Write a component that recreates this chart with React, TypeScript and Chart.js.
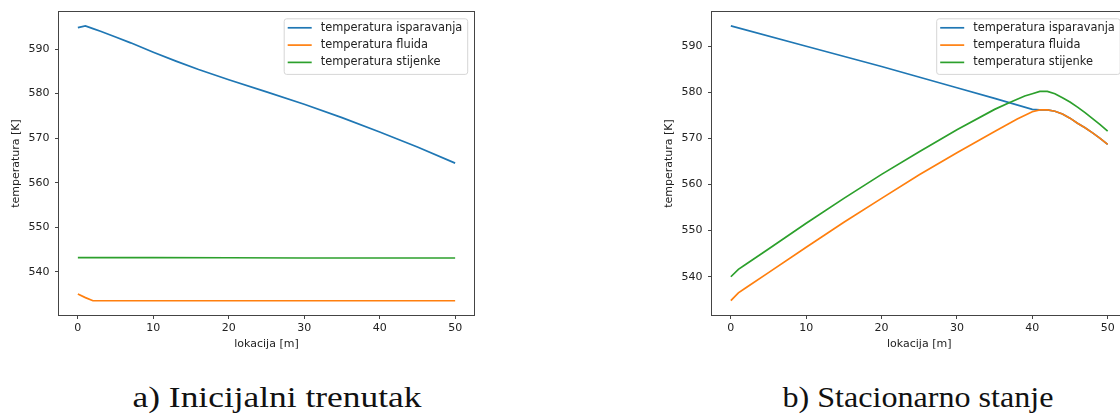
import React, { useEffect, useRef } from 'react';
import { Chart, registerables } from 'chart.js';

Chart.register(...registerables);

// ---------- data ----------
const xTicks = [0, 10, 20, 30, 40, 50];
const yTicks = [540, 550, 560, 570, 580, 590];
const seriesLabels = ['temperatura isparavanja', 'temperatura fluida', 'temperatura stijenke'];
const seriesColors = ['#1f77b4', '#ff7f0e', '#2ca02c'];
const captionA = 'a) Inicijalni trenutak';
const captionB = 'b) Stacionarno stanje';
const xTitle = 'lokacija [m]';
const yTitle = 'temperatura [K]';

// (a) initial moment
const locIsparA = [0, 1, 2, 3, 5, 7, 10, 13, 16, 20, 25, 30, 35, 40, 45, 50];
const tIsparA = [594.8, 595.2, 594.6, 594.0, 592.7, 591.4, 589.3, 587.3, 585.4, 583.1, 580.4, 577.6, 574.6, 571.4, 568.0, 564.4];
const locFluidA = [0, 1, 2, 10, 20, 30, 40, 50];
const tFluidA = [535.0, 534.2, 533.5, 533.5, 533.5, 533.5, 533.5, 533.5];
const locStijA = [0, 10, 20, 30, 40, 50];
const tStijA = [543.2, 543.2, 543.15, 543.1, 543.1, 543.1];

// (b) steady state
const locIsparB = [0, 10, 20, 30, 35, 40, 41, 42, 43, 44, 45, 46, 47, 48, 49, 50];
const tIsparB = [594.4, 590.0, 585.6, 581.0, 578.7, 576.3, 576.2, 576.2, 575.9, 575.3, 574.4, 573.3, 572.3, 571.2, 570.0, 568.7];
const locFluidB = [0, 1, 2, 5, 10, 15, 20, 25, 30, 35, 38, 40, 41, 42, 43, 44, 45, 46, 47, 48, 49, 50];
const tFluidB = [534.8, 536.5, 537.6, 540.9, 546.4, 551.8, 557.0, 562.1, 566.9, 571.5, 574.2, 575.8, 576.2, 576.2, 575.9, 575.3, 574.4, 573.3, 572.3, 571.2, 570.0, 568.7];
const locStijB = [0, 1, 2, 5, 10, 15, 20, 25, 30, 35, 37, 38, 39, 40, 41, 42, 43, 44, 45, 46, 47, 48, 49, 50];
const tStijB = [540.0, 541.6, 542.7, 546.0, 551.6, 557.0, 562.2, 567.1, 571.9, 576.3, 577.8, 578.5, 579.2, 579.7, 580.2, 580.2, 579.7, 578.8, 577.9, 576.8, 575.6, 574.3, 573.0, 571.6];

// ---------- styling ----------
const FONT = "'DejaVu Sans', sans-serif";
const FS = 11;
const LEG_FS = 11.4;
const TXT = '#222222';
const AX = '#444444';

function pts(xs: number[], ys: number[]) {
  return xs.map((x, i) => ({ x, y: ys[i] }));
}

const framePlugin = {
  id: 'frame',
  afterDraw(chart: any) {
    const { ctx, chartArea: a } = chart;
    ctx.save();
    ctx.strokeStyle = AX;
    ctx.lineWidth = 1;
    const l = Math.round(a.left) - 0.5;
    const r = Math.round(a.right) + 0.5;
    const t = Math.round(a.top) - 0.5;
    const b = Math.round(a.bottom) + 0.5;
    ctx.strokeRect(l, t, r - l, b - t);
    ctx.restore();
  },
};

const legendPlugin = {
  id: 'mplLegend',
  afterDraw(chart: any) {
    const { ctx, chartArea: a } = chart;
    const ds = chart.data.datasets;
    ctx.save();
    ctx.font = `${LEG_FS}px ${FONT}`;
    let maxW = 0;
    ds.forEach((d: any) => { maxW = Math.max(maxW, ctx.measureText(d.label).width); });
    const w = 36.6 + maxW + 5.4;
    const h = 55.6;
    const right = a.right - 6.3;
    const left = right - w;
    const top = a.top + 6.7;
    const rad = 2.5;
    ctx.beginPath();
    ctx.moveTo(left + rad, top);
    ctx.lineTo(right - rad, top);
    ctx.arcTo(right, top, right, top + rad, rad);
    ctx.lineTo(right, top + h - rad);
    ctx.arcTo(right, top + h, right - rad, top + h, rad);
    ctx.lineTo(left + rad, top + h);
    ctx.arcTo(left, top + h, left, top + h - rad, rad);
    ctx.lineTo(left, top + rad);
    ctx.arcTo(left, top, left + rad, top, rad);
    ctx.closePath();
    ctx.fillStyle = 'rgba(255,255,255,0.8)';
    ctx.fill();
    ctx.strokeStyle = '#d6d6d6';
    ctx.lineWidth = 1;
    ctx.stroke();
    ds.forEach((d: any, i: number) => {
      const y = top + 9 + i * 17.3;
      ctx.beginPath();
      ctx.moveTo(left + 3.5, y);
      ctx.lineTo(left + 27.5, y);
      ctx.strokeStyle = d.borderColor;
      ctx.lineWidth = 1.7;
      ctx.stroke();
      ctx.fillStyle = TXT;
      ctx.textBaseline = 'middle';
      ctx.textAlign = 'left';
      ctx.fillText(d.label, left + 36.6, y);
    });
    ctx.restore();
  },
};

function makeConfig(series: { x: number[]; y: number[] }[], yMin: number, yMax: number, padLeft: number, padRight: number): any {
  const tickFont = { family: FONT, size: FS };
  return {
    type: 'line',
    data: {
      datasets: series.map((s, i) => ({
        label: seriesLabels[i],
        data: pts(s.x, s.y),
        borderColor: seriesColors[i],
        backgroundColor: seriesColors[i],
        borderWidth: 1.7,
        pointRadius: 0,
        tension: 0,
        fill: false,
        order: series.length - i,
      })),
    },
    options: {
      responsive: false,
      animation: false,
      events: [],
      layout: { padding: { left: padLeft, right: padRight, top: 6, bottom: 0 } },
      plugins: { legend: { display: false }, tooltip: { enabled: false } },
      scales: {
        x: {
          type: 'linear',
          min: -2.5,
          max: 52.5,
          afterBuildTicks: (ax: any) => { ax.ticks = xTicks.map((v) => ({ value: v })); },
          afterFit: (ax: any) => { ax.height = 45; },
          grid: { drawOnChartArea: false, drawTicks: true, tickLength: 4, tickColor: AX, lineWidth: 1 },
          border: { display: false },
          ticks: { color: TXT, font: tickFont, padding: 3, maxRotation: 0, autoSkip: false, callback: (v: any) => String(v) },
          title: { display: true, text: xTitle, color: TXT, font: tickFont, padding: { top: 0, bottom: 9.4 } },
        },
        y: {
          type: 'linear',
          min: yMin,
          max: yMax,
          afterBuildTicks: (ax: any) => { ax.ticks = yTicks.map((v) => ({ value: v })); },
          afterFit: (ax: any) => { ax.width = 59; },
          grid: { drawOnChartArea: false, drawTicks: true, tickLength: 4, tickColor: AX, lineWidth: 1 },
          border: { display: false },
          ticks: { color: TXT, font: tickFont, padding: 5.5, autoSkip: false, callback: (v: any) => String(v) },
          title: { display: true, text: yTitle, color: TXT, font: tickFont, padding: { top: 10, bottom: 0 } },
        },
      },
    },
    plugins: [framePlugin, legendPlugin],
  };
}

function ChartCanvas({ config, left, width }: { config: any; left: number; width: number }) {
  const ref = useRef<HTMLCanvasElement>(null);
  useEffect(() => {
    if (!ref.current) return;
    const chart = new Chart(ref.current, config);
    return () => chart.destroy();
  }, [config]);
  return (
    <canvas
      ref={ref}
      width={width}
      height={360}
      style={{ position: 'absolute', left, top: 0, width, height: 360 }}
    />
  );
}

const configA = makeConfig(
  [
    { x: locIsparA, y: tIsparA },
    { x: locFluidA, y: tFluidA },
    { x: locStijA, y: tStijA },
  ],
  530.3, 598.3, 0, 86
);

const configB = makeConfig(
  [
    { x: locIsparB, y: tIsparB },
    { x: locFluidB, y: tFluidB },
    { x: locStijB, y: tStijB },
  ],
  531.7, 597.4, 93, 33.5
);

const captionStyle: React.CSSProperties = {
  position: 'absolute',
  top: 381.6,
  fontFamily: "'Liberation Serif', serif",
  fontSize: 30,
  lineHeight: '30px',
  color: '#111',
  whiteSpace: 'nowrap',
  transformOrigin: 'center',
};

export default function App() {
  return (
    <div style={{ position: 'absolute', left: 0, top: 0, width: 1120, height: 416, overflow: 'hidden', background: '#fff' }}>
      <ChartCanvas config={configA} left={0} width={560} />
      <ChartCanvas config={configB} left={560} width={600} />
      <div style={{ ...captionStyle, left: 277, transform: 'translateX(-50%) scaleX(1.18)' }}>{captionA}</div>
      <div style={{ ...captionStyle, left: 918, transform: 'translateX(-50%) scaleX(1.07)' }}>{captionB}</div>
    </div>
  );
}
